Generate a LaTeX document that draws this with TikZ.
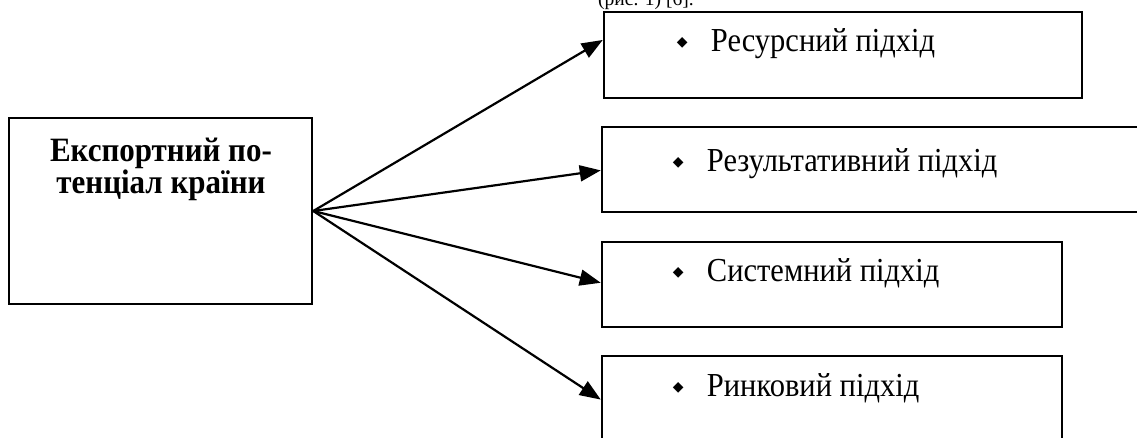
\documentclass[tikz,border=0pt]{standalone}
\usepackage{fontspec}
\setmainfont{Liberation Serif}[BoldFont={Liberation Serif Bold}]
\newfontfamily\dejavu{DejaVu Sans}
\usetikzlibrary{arrows.meta,calc}
\newcommand{\bul}{\makebox[33pt][l]{\hspace{-1pt}\raisebox{5pt}{\dejavu\fontsize{14}{14}\selectfont ◆}}}
\newcommand{\tall}[1]{\scalebox{1}[1.1]{#1}}
\begin{document}
\begin{tikzpicture}[x=1pt,y=-1pt,
  box/.style={draw,line width=2.5pt,rectangle,inner sep=0pt},
  conn/.style={line width=2.2pt,-{Triangle[length=21pt,width=16pt]}},
  item/.style={anchor=base west,inner sep=0pt,font=\fontsize{30.5}{36}\selectfont},
  title/.style={align=center,anchor=base,inner sep=0pt,font=\bfseries\fontsize{31}{30}\selectfont}]
\clip (0,0) rectangle (1137,437);
\fill[white] (0,0) rectangle (1137,437);
% top caption (cut off)
\node[anchor=base west,inner sep=0pt,font=\fontsize{19.5}{20}\selectfont] (cap) at (598,5) {(рис. 1) [6].};
% left box
\node[box,minimum width=303pt,minimum height=186pt] (L) at (160.5,211) {};
\node[title] (Lt) at (161,193) {\tall{Експортний по-}\\\tall{тенціал країни}};
% right boxes
\node[box,minimum width=478pt,minimum height=86pt] (b1) at (843,55) {};
\node[box,minimum width=543pt,minimum height=85pt] (b2) at (873.5,169.5) {};
\node[box,minimum width=460pt,minimum height=85pt] (b3) at (832,284.5) {};
\node[box,minimum width=460pt,minimum height=89pt] (b4) at (832,400.5) {};
% labels
\node[item] (t1) at ($(b1.north west)+(75,41)$) {\bul\tall{Ресурсний підхід}};
\node[item] (t2) at ($(b2.north west)+(73,46)$) {\bul\tall{Результативний підхід}};
\node[item] (t3) at ($(b3.north west)+(73,41)$) {\bul\tall{Системний підхід}};
\node[item] (t4) at ($(b4.north west)+(73,42)$) {\bul\tall{Ринковий підхід}};
% connectors
\coordinate (hub) at (L.east);
\draw[conn] (hub) -- ($(b1.north west)!0.33!(b1.south west)$);
\draw[conn] (hub) -- ($(b2.north west)!0.51!(b2.south west)$);
\draw[conn] (hub) -- ($(b3.north west)!0.48!(b3.south west)$);
\draw[conn] (hub) -- ($(b4.north west)!0.49!(b4.south west)$);
\end{tikzpicture}
\end{document}
